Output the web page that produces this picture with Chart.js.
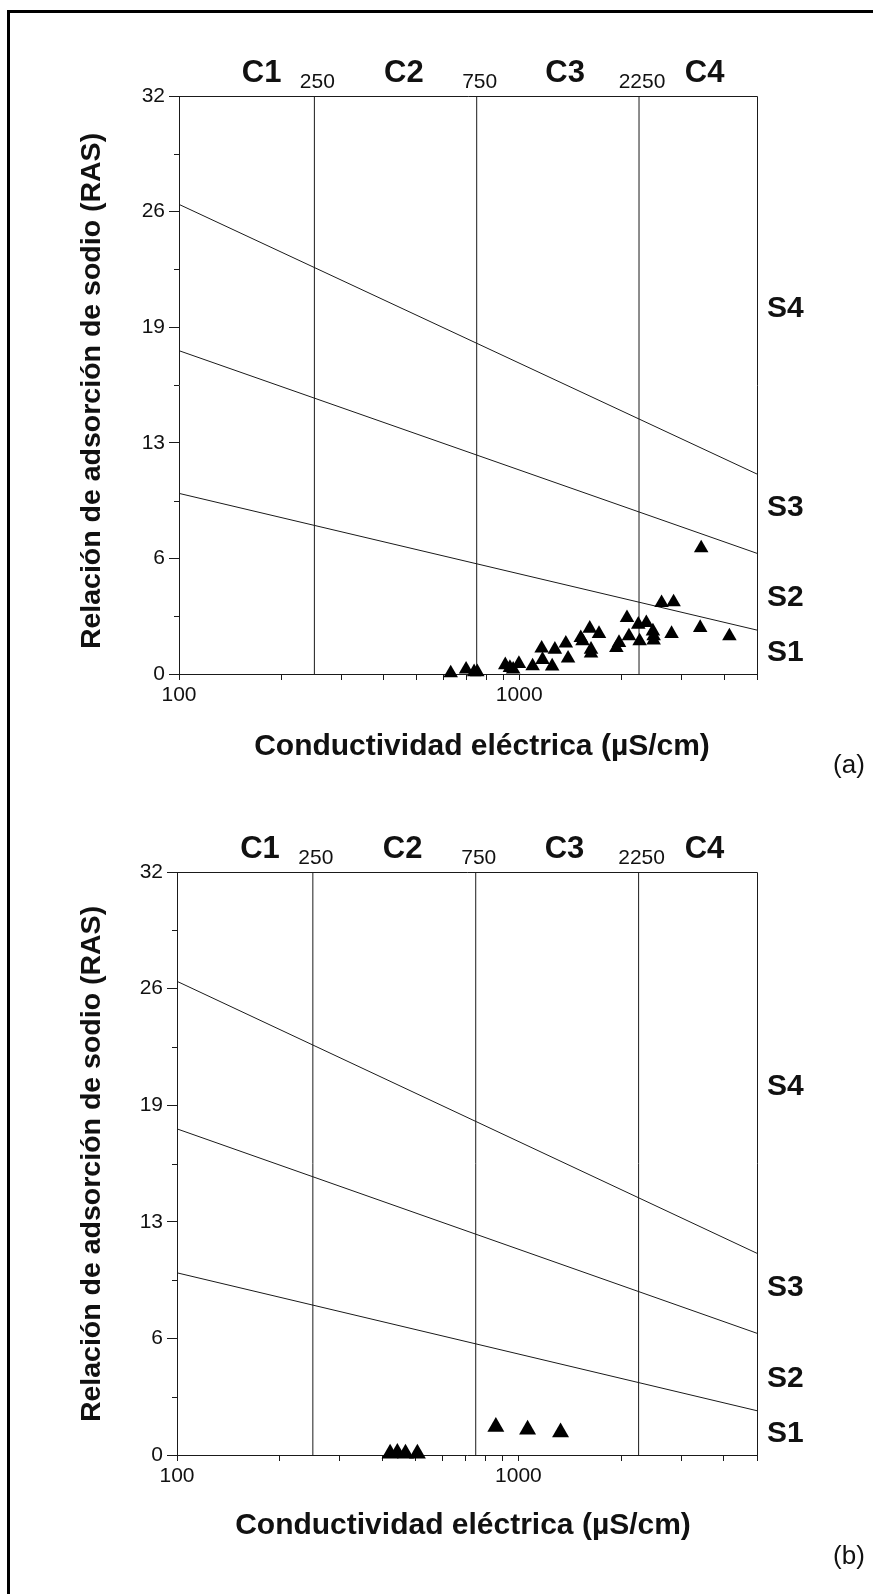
<!DOCTYPE html>
<html>
<head>
<meta charset="utf-8">
<script src="https://cdn.jsdelivr.net/npm/chart.js@4.4.1/dist/chart.umd.min.js"></script>
<style>
  html, body { margin: 0; padding: 0; background: #fff; }
  body { width: 873px; height: 1594px; position: relative; overflow: hidden; }
  #frame { position: absolute; left: 7px; top: 10px; width: 900px; height: 1620px;
           border-left: 3px solid #000; border-top: 3px solid #000; }
  canvas { position: absolute; left: 0; }
  #chartA { top: 0; }
  #chartB { top: 790px; }
</style>
</head>
<body>
<div id="frame"></div>
<canvas id="chartA" width="873" height="790"></canvas>
<canvas id="chartB" width="873" height="804"></canvas>
<script>
// Irrigation water classification diagram (salinity vs. sodium hazard)

// Samples, panel (a): electrical conductivity (µS/cm) and SAR
const ecA = [629, 698, 737, 753, 910, 939, 960, 998, 1095, 1164, 1171, 1250, 1273, 1371,
             1392, 1517, 1535, 1612, 1716, 1626, 1626, 1930, 1965, 2074, 2102, 2239, 2259,
             2364, 2472, 2484, 2484, 2621, 2843, 2804, 3404, 3427, 4148];
const rasA = [0.05, 0.26, 0.11, 0.11, 0.50, 0.35, 0.26, 0.57, 0.44, 1.42, 0.79, 0.43, 1.36, 1.70,
              0.87, 2.00, 1.82, 2.52, 2.23, 1.36, 1.14, 1.45, 1.73, 3.11, 2.10, 2.74, 1.82,
              2.83, 2.37, 2.10, 1.86, 3.94, 3.98, 2.23, 2.56, 6.97, 2.10];

// Samples, panel (b)
const ecB = [421, 442, 467, 506, 859, 1064, 1329];
const rasB = [0.08, 0.12, 0.08, 0.08, 1.55, 1.40, 1.24];

// Salinity class limits (µS/cm) and class names
const salinityBounds = [250, 750, 2250];
const salinityClasses = ['C1', 'C2', 'C3', 'C4'];
const salinityClassEC = [175, 458, 1365, 3508];

// Sodium class limits: SAR at both ends of the conductivity range
const boundaryEC = [100, 5000];
const s1s2 = [10.0, 2.43];
const s2s3 = [17.9, 6.68];
const s3s4 = [26.0, 11.07];
const sodiumClasses = ['S1', 'S2', 'S3', 'S4'];
const sodiumClassRAS = [1.15, 4.2, 9.2, 20.2];

// Axis ticks
const yTickValues = [0, 6.4, 12.8, 19.2, 25.6, 32];
const yTickLabels = ['0', '6', '13', '19', '26', '32'];
const yMinorTicks = [3.2, 9.6, 16, 22.4, 28.8];
const xTickValues = [100, 200, 300, 400, 500, 600, 700, 800, 900, 1000, 2000, 3000, 4000, 5000];
const xTickLabels = [100, 1000];

const INK = '#1a1a1a';
const FONT = "'Liberation Sans', Arial, Helvetica, sans-serif";

function segment(ecs, ras) {
  return ecs.map((e, i) => ({ x: e, y: ras[i] }));
}

const overlay = {
  id: 'overlay',
  afterDraw(chart, args, opts) {
    const { ctx, chartArea: a, scales: { x, y } } = chart;
    ctx.save();
    ctx.strokeStyle = INK;
    ctx.lineWidth = 1;
    ctx.beginPath();
    // top and right sides of the plotting box
    ctx.moveTo(a.left, a.top + 0.5);
    ctx.lineTo(Math.round(a.right) + 0.5, a.top + 0.5);
    ctx.lineTo(Math.round(a.right) + 0.5, a.bottom);
    // minor ticks on the SAR axis
    yMinorTicks.forEach(v => {
      const py = Math.round(y.getPixelForValue(v)) + 0.5;
      ctx.moveTo(a.left - 5, py);
      ctx.lineTo(a.left, py);
    });
    ctx.stroke();

    ctx.fillStyle = '#111';
    // salinity class names above the box
    ctx.font = 'bold 31px ' + FONT;
    ctx.textAlign = 'center';
    ctx.textBaseline = 'alphabetic';
    salinityClasses.forEach((c, i) => {
      ctx.fillText(c, x.getPixelForValue(salinityClassEC[i]), a.top - 14);
    });
    // class limit values
    ctx.font = '21px ' + FONT;
    salinityBounds.forEach(v => {
      ctx.fillText(String(v), x.getPixelForValue(v) + 3, a.top - 8);
    });
    // sodium class names right of the box
    ctx.font = 'bold 30px ' + FONT;
    ctx.textAlign = 'left';
    ctx.textBaseline = 'middle';
    sodiumClasses.forEach((c, i) => {
      ctx.fillText(c, a.right + 10, y.getPixelForValue(sodiumClassRAS[i]));
    });
    // axis titles
    ctx.textAlign = 'center';
    ctx.font = 'bold 30px ' + FONT;
    ctx.fillText('Conductividad eléctrica (µS/cm)', opts.xTitle[0], opts.xTitle[1]);
    ctx.save();
    ctx.translate(opts.yTitle[0], opts.yTitle[1]);
    ctx.rotate(-Math.PI / 2);
    ctx.font = 'bold 28.5px ' + FONT;
    ctx.fillText('Relación de adsorción de sodio (RAS)', 0, 0);
    ctx.restore();
    // panel letter
    ctx.font = '26px ' + FONT;
    ctx.fillText(opts.letter, opts.letterPos[0], opts.letterPos[1]);
    ctx.restore();
  }
};

function makeChart(id, ec, ras, radius, L) {
  const lineStyle = { showLine: true, pointRadius: 0, borderColor: INK, borderWidth: 1, order: 1, clip: false };
  const datasets = [
    {
      label: 'Muestras', data: segment(ec, ras), pointStyle: 'triangle', pointRadius: radius,
      pointHoverRadius: radius, backgroundColor: '#000', borderColor: '#000', borderWidth: 0,
      showLine: false, order: 0, clip: false
    },
    Object.assign({ label: 'S1/S2', data: segment(boundaryEC, s1s2) }, lineStyle),
    Object.assign({ label: 'S2/S3', data: segment(boundaryEC, s2s3) }, lineStyle),
    Object.assign({ label: 'S3/S4', data: segment(boundaryEC, s3s4) }, lineStyle)
  ];
  salinityBounds.forEach(b => {
    datasets.push(Object.assign({ label: String(b), data: segment([b, b], [0, 32]) }, lineStyle));
  });

  return new Chart(document.getElementById(id), {
    type: 'scatter',
    data: { datasets },
    plugins: [overlay],
    options: {
      responsive: false,
      animation: false,
      events: [],
      layout: { padding: { top: L.top, right: L.right, left: 0, bottom: 0 } },
      plugins: {
        legend: { display: false },
        tooltip: { enabled: false },
        overlay: { xTitle: L.xTitle, yTitle: L.yTitle, letter: L.letter, letterPos: L.letterPos }
      },
      scales: {
        x: {
          type: 'logarithmic', min: 100, max: 5000,
          afterBuildTicks: s => { s.ticks = xTickValues.map(v => ({ value: v })); },
          afterFit: s => { s.height = L.xHeight; },
          ticks: {
            autoSkip: false, maxRotation: 0, padding: 3, color: '#111',
            font: { family: FONT, size: 21 },
            callback: v => xTickLabels.includes(v) ? String(v) : ''
          },
          grid: { display: true, drawOnChartArea: false, drawTicks: true, tickLength: 6, color: INK },
          border: { display: true, color: INK, width: 1 }
        },
        y: {
          type: 'linear', min: 0, max: 32,
          afterBuildTicks: s => { s.ticks = yTickValues.map(v => ({ value: v })); },
          afterFit: s => { s.width = L.yWidth; },
          ticks: {
            autoSkip: false, padding: 4, color: '#111',
            font: { family: FONT, size: 21 },
            callback: v => yTickLabels[yTickValues.indexOf(v)]
          },
          grid: { display: true, drawOnChartArea: false, drawTicks: true, tickLength: 10, color: INK },
          border: { display: true, color: INK, width: 1 }
        }
      }
    }
  });
}

makeChart('chartA', ecA, rasA, 8.4, {
  top: 96, right: 116, yWidth: 179, xHeight: 116,
  xTitle: [482, 747], yTitle: [92, 391], letter: '(a)', letterPos: [849, 766]
});
makeChart('chartB', ecB, rasB, 9.8, {
  top: 82, right: 116, yWidth: 177, xHeight: 139,
  xTitle: [463, 736], yTitle: [92, 374], letter: '(b)', letterPos: [849, 767]
});
</script>
</body>
</html>
